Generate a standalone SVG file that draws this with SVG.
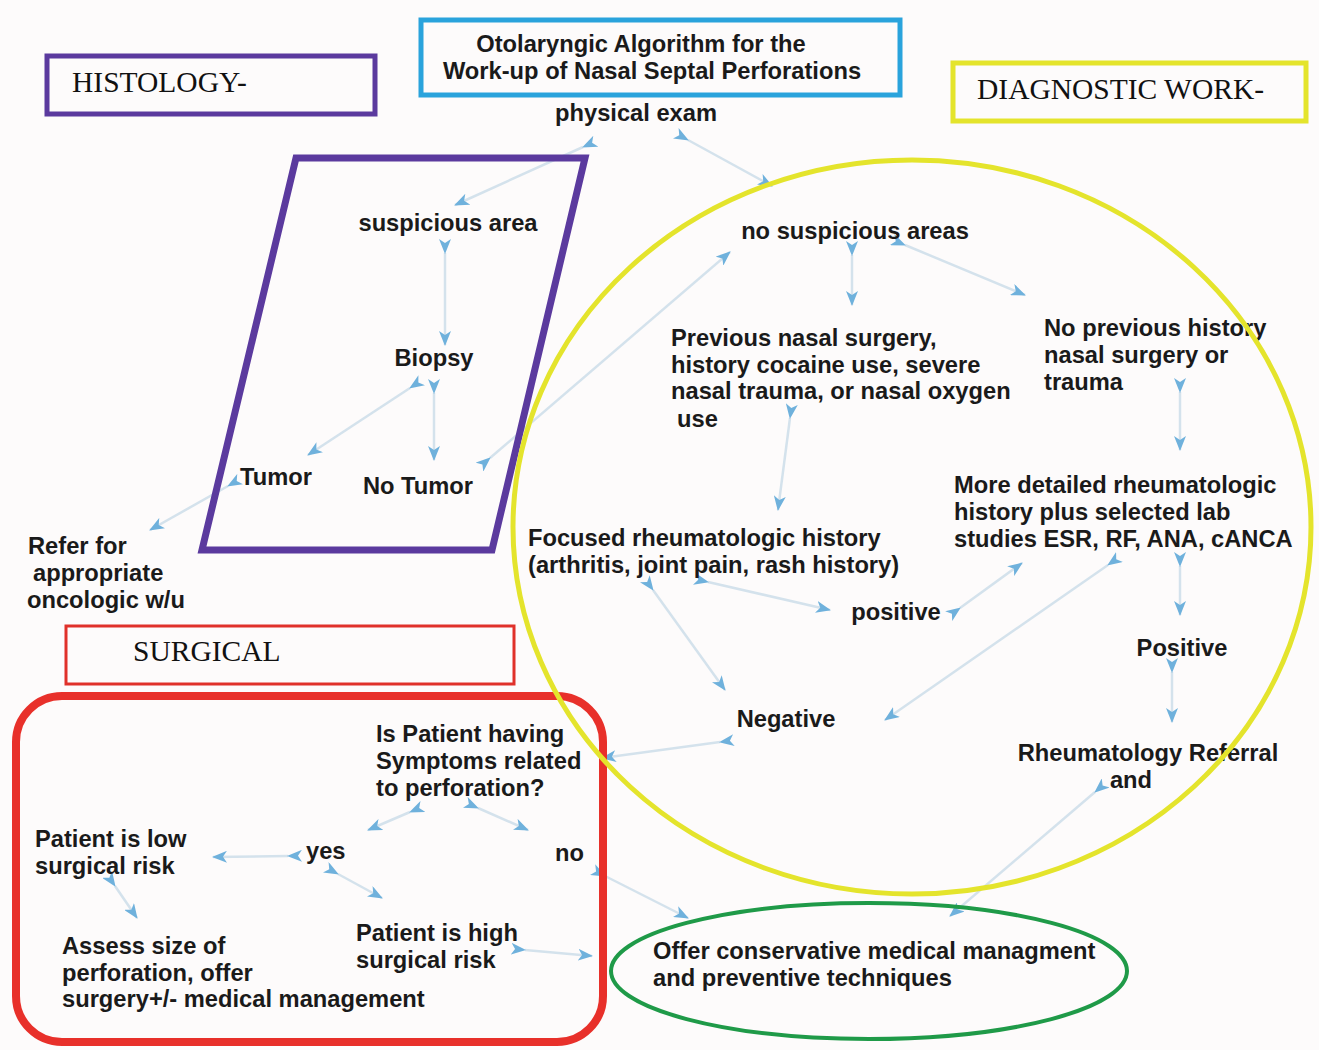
<svg xmlns="http://www.w3.org/2000/svg" width="1319" height="1050" viewBox="0 0 1319 1050">
<style>
.t{font-family:"Liberation Sans",Arial,sans-serif;font-weight:bold;font-size:23.7px;fill:#1a1a1a}
.s{font-family:"Liberation Serif","Times New Roman",serif;font-size:29.5px;fill:#111}
.c{fill:none;stroke:#d4e2ec;stroke-width:2.5}
</style>
<defs>
<marker id="a" markerUnits="userSpaceOnUse" markerWidth="16" markerHeight="12" refX="14" refY="6" orient="auto">
<path d="M0,0 L15,6 L0,12 L4,6 z" fill="#6fb1dc"/>
</marker>
</defs>
<rect width="1319" height="1050" fill="#fdfbfb"/>

<g id="connectors">
<path class="c" d="M583,147 L455,205" marker-start="url(#a)" marker-end="url(#a)"/>
<path class="c" d="M688,140 L772,186" marker-start="url(#a)" marker-end="url(#a)"/>
<path class="c" d="M445,253 L445,345" marker-start="url(#a)" marker-end="url(#a)"/>
<path class="c" d="M410,388 L308,455" marker-start="url(#a)" marker-end="url(#a)"/>
<path class="c" d="M434,393 L434,460" marker-start="url(#a)" marker-end="url(#a)"/>
<path class="c" d="M490,458 L730,252" marker-start="url(#a)" marker-end="url(#a)"/>
<path class="c" d="M228,486 L150,530" marker-start="url(#a)" marker-end="url(#a)"/>
<path class="c" d="M852,255 L852,305" marker-start="url(#a)" marker-end="url(#a)"/>
<path class="c" d="M905,245 L1025,295" marker-start="url(#a)" marker-end="url(#a)"/>
<path class="c" d="M790,418 L778,510" marker-start="url(#a)" marker-end="url(#a)"/>
<path class="c" d="M1180,392 L1180,450" marker-start="url(#a)" marker-end="url(#a)"/>
<path class="c" d="M653,590 L725,690" marker-start="url(#a)" marker-end="url(#a)"/>
<path class="c" d="M708,582 L830,610" marker-start="url(#a)" marker-end="url(#a)"/>
<path class="c" d="M960,608 L1022,563" marker-start="url(#a)" marker-end="url(#a)"/>
<path class="c" d="M1108,565 L885,720" marker-start="url(#a)" marker-end="url(#a)"/>
<path class="c" d="M1180,566 L1180,615" marker-start="url(#a)" marker-end="url(#a)"/>
<path class="c" d="M1172,672 L1172,722" marker-start="url(#a)" marker-end="url(#a)"/>
<path class="c" d="M720,742 L602,758" marker-start="url(#a)" marker-end="url(#a)"/>
<path class="c" d="M1095,792 L950,916" marker-start="url(#a)" marker-end="url(#a)"/>
<path class="c" d="M410,812 L368,830" marker-start="url(#a)" marker-end="url(#a)"/>
<path class="c" d="M478,808 L528,830" marker-start="url(#a)" marker-end="url(#a)"/>
<path class="c" d="M288,856 L213,857" marker-start="url(#a)" marker-end="url(#a)"/>
<path class="c" d="M338,874 L382,898" marker-start="url(#a)" marker-end="url(#a)"/>
<path class="c" d="M115,886 L137,918" marker-start="url(#a)" marker-end="url(#a)"/>
<path class="c" d="M525,950 L592,956" marker-start="url(#a)" marker-end="url(#a)"/>
<path class="c" d="M605,876 L688,918" marker-start="url(#a)" marker-end="url(#a)"/>
</g>

<g id="title">
<rect x="421" y="20" width="479" height="75" fill="none" stroke="#2aa3dc" stroke-width="5"/>
<text class="t" x="641" y="52" text-anchor="middle">Otolaryngic Algorithm for the</text>
<text class="t" x="652" y="79" text-anchor="middle">Work-up of Nasal Septal Perforations</text>
</g>
<g id="histology-label">
<rect x="47" y="56" width="328" height="58" fill="none" stroke="#5b3a9e" stroke-width="5"/>
<text class="s" x="72" y="92">HISTOLOGY-</text>
</g>
<g id="diagnostic-label">
<rect x="953" y="63" width="353" height="58" fill="none" stroke="#e4e42c" stroke-width="5"/>
<text class="s" x="977" y="99">DIAGNOSTIC WORK-</text>
</g>
<g id="surgical-label">
<rect x="66" y="626" width="448" height="58" fill="none" stroke="#e0302a" stroke-width="3"/>
<text class="s" x="133" y="661">SURGICAL</text>
</g>

<g id="histology-frame">
<polygon points="296,158 585,158 492,550 202,550" fill="none" stroke="#5b3a9e" stroke-width="7"/>
</g>
<g id="surgical-frame">
<rect x="16" y="696" width="587" height="346" rx="46" fill="none" stroke="#e8302a" stroke-width="8"/>
</g>

<g id="physical-exam"><text class="t" x="636" y="121" text-anchor="middle">physical exam</text></g>
<g id="suspicious-area"><text class="t" x="448" y="231" text-anchor="middle">suspicious area</text></g>
<g id="biopsy"><text class="t" x="434" y="366" text-anchor="middle">Biopsy</text></g>
<g id="tumor"><text class="t" x="276" y="485" text-anchor="middle">Tumor</text></g>
<g id="no-tumor"><text class="t" x="418" y="494" text-anchor="middle">No Tumor</text></g>
<g id="refer">
<text class="t" x="28" y="554">Refer for</text>
<text class="t" x="33" y="581">appropriate</text>
<text class="t" x="27" y="608">oncologic w/u</text>
</g>
<g id="no-suspicious"><text class="t" x="855" y="239" text-anchor="middle">no suspicious areas</text></g>
<g id="previous">
<text class="t" x="671" y="346">Previous nasal surgery,</text>
<text class="t" x="671" y="373">history cocaine use, severe</text>
<text class="t" x="671" y="399">nasal trauma, or nasal oxygen</text>
<text class="t" x="677" y="427">use</text>
</g>
<g id="no-previous">
<text class="t" x="1044" y="336">No previous history</text>
<text class="t" x="1044" y="363">nasal surgery or</text>
<text class="t" x="1044" y="390">trauma</text>
</g>
<g id="more-detailed">
<text class="t" x="954" y="493">More detailed rheumatologic</text>
<text class="t" x="954" y="520">history plus selected lab</text>
<text class="t" x="954" y="547">studies ESR, RF, ANA, cANCA</text>
</g>
<g id="focused">
<text class="t" x="528" y="546">Focused rheumatologic history</text>
<text class="t" x="528" y="573">(arthritis, joint pain, rash history)</text>
</g>
<g id="positive-lower"><text class="t" x="896" y="620" text-anchor="middle">positive</text></g>
<g id="positive-upper"><text class="t" x="1182" y="656" text-anchor="middle">Positive</text></g>
<g id="negative"><text class="t" x="786" y="727" text-anchor="middle">Negative</text></g>
<g id="referral">
<text class="t" x="1148" y="761" text-anchor="middle">Rheumatology Referral</text>
<text class="t" x="1131" y="788" text-anchor="middle">and</text>
</g>
<g id="symptoms">
<text class="t" x="376" y="742">Is Patient having</text>
<text class="t" x="376" y="769">Symptoms related</text>
<text class="t" x="376" y="796">to perforation?</text>
</g>
<g id="yes"><text class="t" x="306" y="859">yes</text></g>
<g id="no"><text class="t" x="555" y="861">no</text></g>
<g id="low-risk">
<text class="t" x="35" y="847">Patient is low</text>
<text class="t" x="35" y="874">surgical risk</text>
</g>
<g id="high-risk">
<text class="t" x="356" y="941">Patient is high</text>
<text class="t" x="356" y="968">surgical risk</text>
</g>
<g id="assess">
<text class="t" x="62" y="954">Assess size of</text>
<text class="t" x="62" y="981">perforation, offer</text>
<text class="t" x="62" y="1007">surgery+/- medical management</text>
</g>
<g id="conservative">
<ellipse cx="869" cy="971" rx="258" ry="68" fill="none" stroke="#1f9a48" stroke-width="4"/>
<text class="t" x="653" y="959">Offer conservative medical managment</text>
<text class="t" x="653" y="986">and preventive techniques</text>
</g>

<g id="diagnostic-frame">
<ellipse cx="912" cy="527" rx="399" ry="367" fill="none" stroke="#e4e42c" stroke-width="5"/>
</g>
</svg>
